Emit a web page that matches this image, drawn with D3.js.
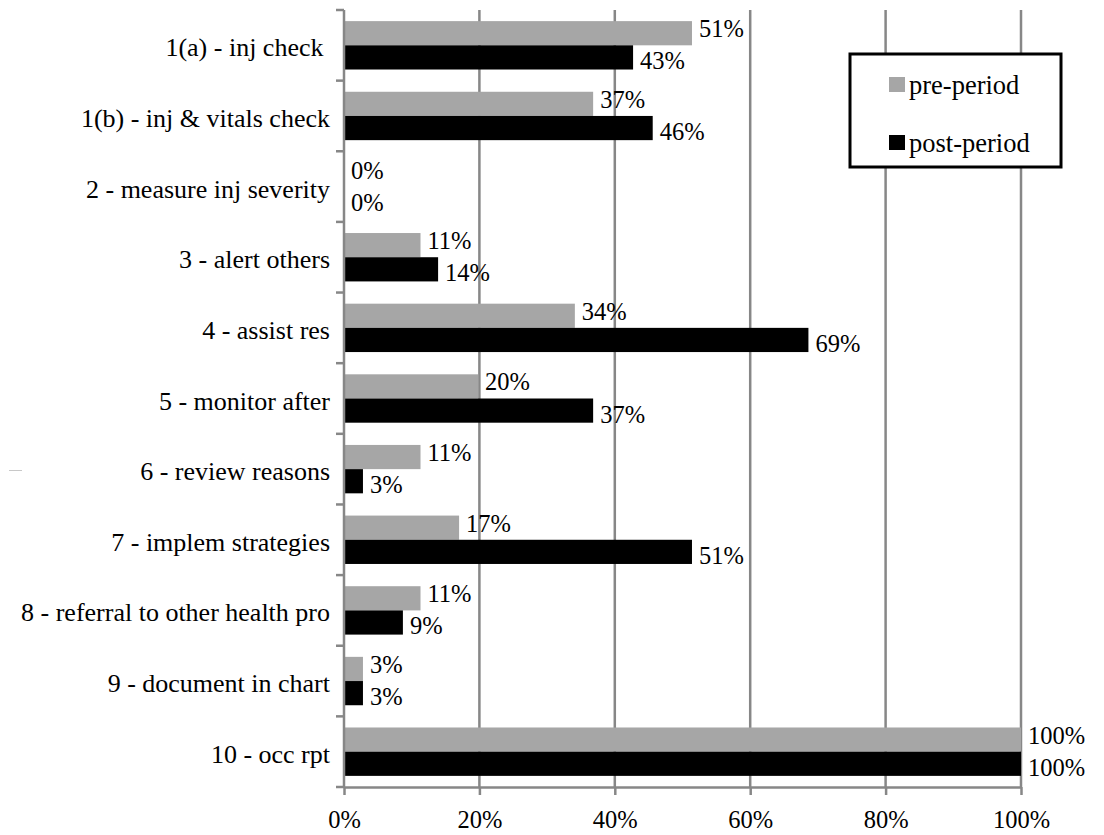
<!DOCTYPE html>
<html>
<head>
<meta charset="utf-8">
<script src="https://cdn.jsdelivr.net/npm/d3@7"></script>
<style>
  html, body { margin: 0; padding: 0; background: #fff; }
  svg text { font-family: "Liberation Serif", "Times New Roman", serif; fill: #000; white-space: pre; }
</style>
</head>
<body>
<svg id="chart" width="1104" height="835"></svg>
<script>
// ---- data ----
const categories = [
  "1(a) - inj check ",
  "1(b) - inj & vitals check",
  "2 - measure inj severity",
  "3 - alert others",
  "4 - assist res",
  "5 - monitor after",
  "6 - review reasons",
  "7 - implem strategies",
  "8 - referral to other health pro",
  "9 - document in chart",
  "10 - occ rpt"
];
const seriesNames = ["pre-period", "post-period"];
const preValues  = [0.514, 0.368, 0, 0.113, 0.341, 0.198, 0.113, 0.170, 0.113, 0.028, 1.0];
const postValues = [0.427, 0.456, 0, 0.139, 0.686, 0.368, 0.028, 0.514, 0.087, 0.028, 1.0];
const xTicks = [0, 0.2, 0.4, 0.6, 0.8, 1.0];

(function () {
// ---- layout ----
const svg = d3.select("#chart");
const pLeft = 344, pRight = 1021, pTop = 10, pBottom = 787;
const colors = { "pre-period": "#a6a6a6", "post-period": "#000000" };
const gridColor = "#878787";

const x = d3.scaleLinear().domain([0, 1]).range([pLeft, pRight]);
const y = d3.scaleBand().domain(categories).range([pTop, pBottom]).paddingInner(0.315).paddingOuter(0.1575);
const ySub = d3.scaleBand().domain(seriesNames).range([0, y.bandwidth()]);

// gridlines
svg.append("g").selectAll("line").data(xTicks.filter(d => d > 0)).join("line")
  .attr("x1", d => x(d)).attr("x2", d => x(d))
  .attr("y1", pTop).attr("y2", pBottom)
  .attr("stroke", gridColor).attr("stroke-width", 2.5);

// bars
const rows = categories.map((c, i) => ({ cat: c, vals: [
  { s: "pre-period", v: preValues[i] },
  { s: "post-period", v: postValues[i] }
]}));

const groups = svg.append("g").selectAll("g").data(rows).join("g")
  .attr("transform", d => `translate(0,${y(d.cat)})`);

groups.selectAll("rect").data(d => d.vals).join("rect")
  .attr("x", x(0))
  .attr("y", d => ySub(d.s))
  .attr("width", d => x(d.v) - x(0))
  .attr("height", ySub.bandwidth())
  .attr("fill", d => colors[d.s]);

// value labels
groups.selectAll("text").data(d => d.vals).join("text")
  .attr("x", d => x(d.v) + 7)
  .attr("y", d => ySub(d.s) + ySub.bandwidth() / 2 + (d.s === "pre-period" ? 4 : 12))
  .attr("font-size", "24.5px")
  .text(d => d3.format(".0%")(d.v));

// y axis line + ticks at category boundaries
const yAxis = svg.append("g");
yAxis.append("line").attr("x1", pLeft).attr("x2", pLeft).attr("y1", pTop).attr("y2", pBottom)
  .attr("stroke", gridColor).attr("stroke-width", 2.5);
const boundaries = d3.range(categories.length + 1).map(i => pTop + i * y.step());
yAxis.selectAll("line.tk").data(boundaries).join("line").attr("class", "tk")
  .attr("x1", pLeft - 8).attr("x2", pLeft).attr("y1", d => d).attr("y2", d => d)
  .attr("stroke", gridColor).attr("stroke-width", 2.5);

// category labels
svg.append("g").selectAll("text").data(categories).join("text")
  .attr("x", 330)
  .attr("y", d => y(d) + y.bandwidth() / 2 + 11)
  .attr("text-anchor", "end")
  .attr("font-size", "26px")
  .text(d => d);

// x axis
const xAxis = svg.append("g").attr("transform", `translate(0,${pBottom})`)
  .call(d3.axisBottom(x).tickValues(xTicks).tickSize(8).tickSizeOuter(0).tickFormat(d3.format(".0%")));
xAxis.select(".domain").attr("stroke", gridColor).attr("stroke-width", 2.5);
xAxis.selectAll(".tick line").attr("stroke", gridColor).attr("stroke-width", 2.5);
xAxis.selectAll(".tick text")
  .attr("font-size", "24.5px").attr("fill", "#000")
  .attr("y", 0).attr("dy", 0)
  .attr("transform", "translate(0,41)");

// legend
const legend = svg.append("g");
legend.append("rect").attr("x", 850).attr("y", 54).attr("width", 211).attr("height", 113)
  .attr("fill", "#fff").attr("stroke", "#000").attr("stroke-width", 3);
const li = legend.selectAll("g").data(seriesNames).join("g")
  .attr("transform", (d, i) => `translate(889,${77 + i * 58})`);
li.append("rect").attr("width", 16).attr("height", 15).attr("fill", d => colors[d]);
li.append("text").attr("x", 20).attr("y", 17).attr("font-size", "26.5px").text(d => d);

// small stray mark at left edge
svg.append("line").attr("x1", 9).attr("x2", 22).attr("y1", 470.5).attr("y2", 470.5)
  .attr("stroke", "#c8c8c8").attr("stroke-width", 1);
})();
</script>
</body>
</html>
